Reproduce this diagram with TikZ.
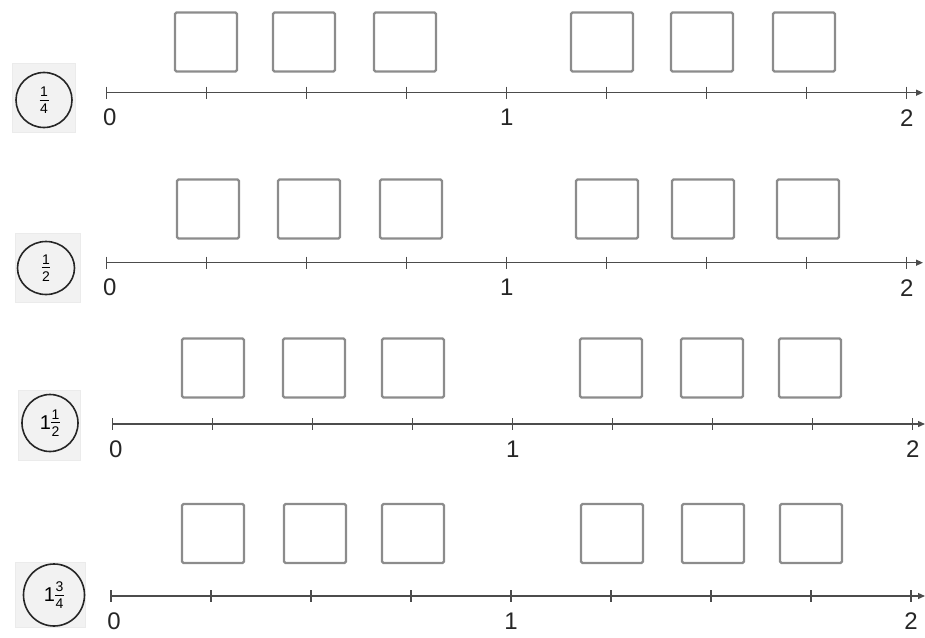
\documentclass[tikz,border=0pt]{standalone}
\usepackage{fontspec}
\setmainfont{Liberation Sans}
\usetikzlibrary{arrows.meta,shapes.geometric}
\begin{document}
\begin{tikzpicture}[x=1pt,y=-1pt,
  sq/.style={draw=black!45, line width=2.2pt, minimum width=62pt, minimum height=59pt, inner sep=0pt, rounded corners=1.5pt},
  ax/.style={draw=black!70, line width=1.3pt},
  tk/.style={draw=black!70, line width=1.4pt},
  num/.style={font=\fontsize{24}{24}\selectfont, text=black!85, inner sep=0pt},
  lbox/.style={fill=black!5, draw=black!8, line width=0.5pt, inner sep=0pt},
  circ/.style={ellipse, draw=black!85, line width=1.6pt, inner sep=0pt}]
\useasboundingbox (0,0) rectangle (925,637);
\newcommand\myfr[2]{$\vcenter{\hbox{\fontsize{14}{14}\selectfont\shortstack{#1\\\rule{9pt}{1pt}\\#2}}}$}
\newcommand\wh{$\vcenter{\hbox{\fontsize{20}{20}\selectfont 1}}$}
% label boxes and circles
\node[lbox, minimum width=63pt, minimum height=69pt] (L1) at (43.5,97.5) {};
\node[circ, minimum width=56pt, minimum height=55pt] (C1) at (44,100) {\myfr{1}{4}};
\node[lbox, minimum width=65pt, minimum height=69pt] (L2) at (47.5,267.5) {};
\node[circ, minimum width=57pt, minimum height=53pt] (C2) at (46,268) {\myfr{1}{2}};
\node[lbox, minimum width=62pt, minimum height=70pt] (L3) at (49,425) {};
\node[circ, minimum width=56pt, minimum height=57pt] (C3) at (50,423) {\wh\myfr{1}{2}};
\node[lbox, minimum width=70pt, minimum height=65pt] (L4) at (50,594.5) {};
\node[circ, minimum width=61pt, minimum height=62pt] (C4) at (54,595) {\wh\myfr{3}{4}};
% rows
\foreach \r/\y/\xo/\cy/\ax/\bx/\cx/\dx/\ex/\fx/\xe in {
  1/92.7/106.7/42/174/272/373/570/670/772/923,
  2/262.7/106.7/209/176/277/379/575/671/776/923,
  3/424/112.7/368/181/282/381/579/680/778/925,
  4/596/111/533.5/181/283/381/580/681/779/925}{
  \coordinate (s\r) at (\xo,\y);
  \coordinate (e\r) at (\xe,\y);
  \draw[ax,-{Triangle[length=7pt,width=6pt]}] (s\r) -- (e\r);
  \foreach \k in {0,...,8}{
    \draw[tk] (\xo+100*\k,\y-6) -- (\xo+100*\k,\y+6);
  }
  \node[num] (n0\r) at (\xo+3,\y+25) {0};
  \node[num] (n1\r) at (\xo+400,\y+25) {1};
  \node[num] (n2\r) at (\xo+800,\y+25) {2};
  \node[sq] (b1\r) at (\ax+32,\cy) {};
  \node[sq] (b2\r) at (\bx+32,\cy) {};
  \node[sq] (b3\r) at (\cx+32,\cy) {};
  \node[sq] (b4\r) at (\dx+32,\cy) {};
  \node[sq] (b5\r) at (\ex+32,\cy) {};
  \node[sq] (b6\r) at (\fx+32,\cy) {};
}
\end{tikzpicture}
\end{document}
